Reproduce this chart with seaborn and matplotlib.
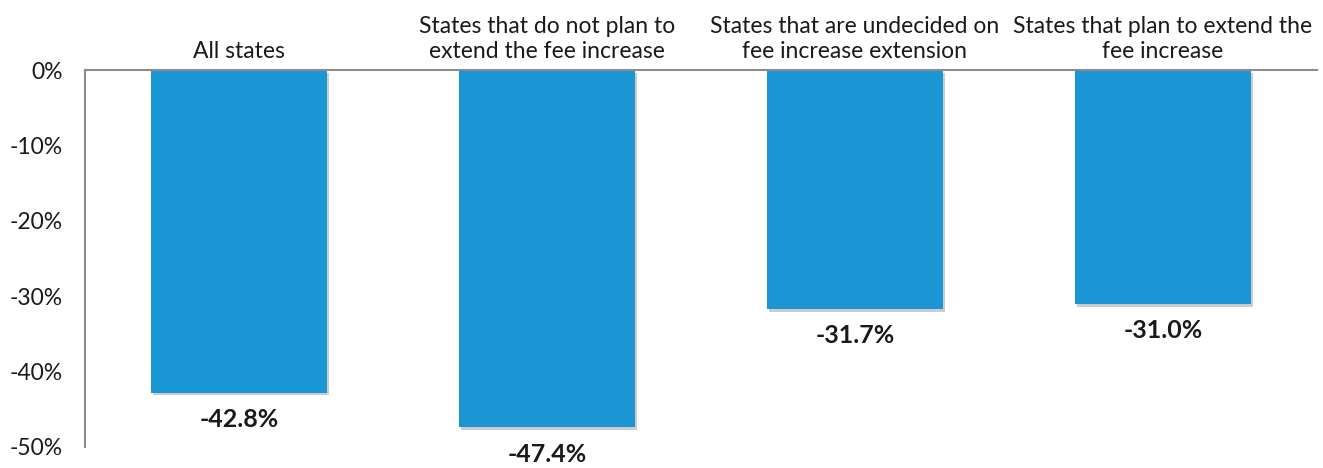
import matplotlib
matplotlib.use("Agg")
import matplotlib.pyplot as plt
import matplotlib.patheffects as pe
import seaborn as sns
import pandas as pd

categories = [
    "All states",
    "States that do not plan to\nextend the fee increase",
    "States that are undecided on\nfee increase extension",
    "States that plan to extend the\nfee increase",
]
values = [-42.8, -47.4, -31.7, -31.0]
value_labels = ["-42.8%", "-47.4%", "-31.7%", "-31.0%"]
yticks = [0, -10, -20, -30, -40, -50]
ytick_labels = ["0%", "-10%", "-20%", "-30%", "-40%", "-50%"]

sns.set_theme(style="white")
plt.rcParams["font.family"] = ["Lato", "DejaVu Sans"]

df = pd.DataFrame({"cat": categories, "val": values})

fig = plt.figure(figsize=(13.23, 4.68), dpi=100)
ax = fig.add_axes([0.0643, 0.045, 0.931, 0.805])

sns.barplot(data=df, x="cat", y="val", color="#1996D3", saturation=1,
            width=0.57, ax=ax, zorder=2, linewidth=0)

for p in ax.patches:
    p.set_path_effects([pe.SimplePatchShadow(offset=(1.5, -2), shadow_rgbFace="#000000", alpha=0.2), pe.Normal()])

ax.set_ylim(-50, 0)
ax.set_yticks(yticks)
ax.set_yticklabels(ytick_labels, fontsize=16.5, color="#1a1a1a")
ax.xaxis.tick_top()
ax.set_xticks(range(len(categories)))
ax.set_xticklabels(categories, fontsize=16.5, color="#1a1a1a", linespacing=1.2)
ax.tick_params(axis="both", length=0)
ax.tick_params(axis="y", pad=16)
ax.tick_params(axis="x", pad=6)
ax.set_xlabel("")
ax.set_ylabel("")
ax.set_xlim(-0.5, 3.5)

for s in ["bottom", "right"]:
    ax.spines[s].set_visible(False)
for s in ["top", "left"]:
    ax.spines[s].set_color("#8c8c8c")
    ax.spines[s].set_linewidth(1.5)
    ax.spines[s].set_zorder(3)

for i, (v, lab) in enumerate(zip(values, value_labels)):
    ax.annotate(lab, xy=(i, v), xytext=(0, -11), textcoords="offset points",
                ha="center", va="top", fontsize=18, fontweight="bold",
                color="#1a1a1a", annotation_clip=False)

fig.savefig("out.png", dpi=100)
